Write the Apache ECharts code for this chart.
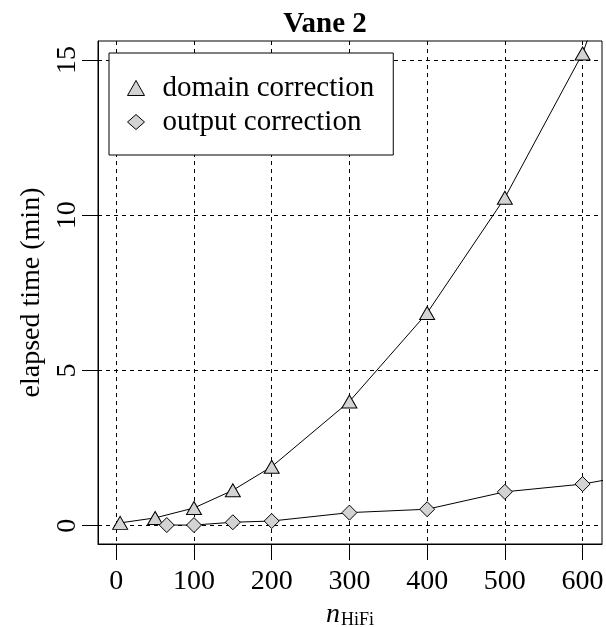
<!DOCTYPE html>
<html>
<head>
<meta charset="utf-8">
<title>Vane 2</title>
<script src="https://cdn.jsdelivr.net/npm/echarts@6/dist/echarts.min.js"></script>
<style>
  html, body { margin: 0; padding: 0; background: #fff; }
  #main { width: 606px; height: 627px; }
</style>
</head>
<body>
<div id="main"></div>
<script>
  // data
  var domainX = [5, 50, 100, 150, 200, 300, 400, 500, 600, 700];
  var domainY = [0.09, 0.25, 0.57, 1.14, 1.9, 4.0, 6.85, 10.56, 15.21, 22.0];
  var outputX = [65, 100, 150, 200, 300, 400, 500, 600, 700];
  var outputY = [0.02, 0.02, 0.11, 0.15, 0.42, 0.53, 1.09, 1.34, 1.79];
  var xTicks = [0, 100, 200, 300, 400, 500, 600];
  var yTicks = [0, 5, 10, 15];

  var X_MIN = -23.5, X_MAX = 625;
  var Y_MIN = -0.59, Y_MAX = 15.61;

  var FONT = '"Liberation Serif", "DejaVu Serif", serif';
  var FILL = '#d3d3d3';
  var SOLID = { show: true, lineStyle: { color: '#000', type: 'solid', width: 1 } };
  var DASHED = { show: true, lineStyle: { color: '#000', type: [4, 4], width: 1 } };

  function pairs(xs, ys) {
    return xs.map(function (x, i) { return [x, ys[i]]; });
  }

  var chart = echarts.init(document.getElementById('main'));
  chart.setOption({
    animation: false,
    backgroundColor: '#fff',
    title: {
      text: 'Vane 2',
      left: 320,
      top: 5,
      textAlign: 'center',
      textStyle: { fontFamily: FONT, fontWeight: 'bold', fontSize: 29, color: '#000' }
    },
    grid: [
      // main plot
      { left: 98, right: 4, top: 41, bottom: 83, outerBoundsMode: 'none',
        show: true, borderColor: '#000', borderWidth: 1, backgroundColor: 'transparent' },
      // strip under the plot: its split lines are the x ticks
      { left: 98, right: 4, top: 544, bottom: 67, outerBoundsMode: 'none' },
      // strip left of the plot: its split lines are the y ticks
      { left: 82, right: 508, top: 41, bottom: 83, outerBoundsMode: 'none' }
    ],
    legend: {
      orient: 'vertical',
      left: 109, top: 53,
      padding: [20, 19, 18, 18],
      borderColor: '#000', borderWidth: 1,
      backgroundColor: '#fff',
      itemWidth: 17, itemHeight: 15, itemGap: 4,
      textStyle: { fontFamily: FONT, fontSize: 29, lineHeight: 30, color: '#000', padding: [0, 0, 0, 13] },
      data: [
        { name: 'domain correction', icon: 'triangle', itemStyle: { color: FILL, borderColor: '#000', borderWidth: 1 } },
        { name: 'output correction', icon: 'diamond', itemStyle: { color: FILL, borderColor: '#000', borderWidth: 1 } }
      ]
    },
    xAxis: [
      {
        type: 'value', gridIndex: 0,
        min: X_MIN, max: X_MAX,
        name: '{n|n}{s|HiFi}',
        nameLocation: 'middle',
        nameGap: 55,
        nameTextStyle: {
          rich: {
            n: { fontFamily: FONT, fontStyle: 'italic', fontSize: 28, color: '#000' },
            s: { fontFamily: FONT, fontSize: 18, color: '#000', padding: [10, 0, 0, 1] }
          }
        },
        axisLine: { show: true, onZero: false, lineStyle: { color: '#000' } },
        axisTick: { show: false, customValues: xTicks },
        axisLabel: { customValues: xTicks, margin: 24, fontFamily: FONT, fontSize: 28, color: '#000' },
        splitLine: DASHED
      },
      {
        type: 'value', gridIndex: 1,
        min: X_MIN, max: X_MAX,
        axisLine: { show: false },
        axisTick: { show: false, customValues: xTicks },
        axisLabel: { show: false, customValues: xTicks },
        splitLine: SOLID
      },
      { type: 'value', gridIndex: 2, show: false, min: 0, max: 1 }
    ],
    yAxis: [
      {
        type: 'value', gridIndex: 0,
        min: Y_MIN, max: Y_MAX,
        name: 'elapsed time (min)',
        nameLocation: 'middle',
        nameGap: 40,
        nameTextStyle: { fontFamily: FONT, fontSize: 28, color: '#000' },
        axisLine: { show: true, onZero: false, lineStyle: { color: '#000' } },
        axisTick: { show: false, customValues: yTicks },
        axisLabel: { customValues: yTicks, rotate: 90, margin: 16, fontFamily: FONT, fontSize: 28, color: '#000' },
        splitLine: DASHED
      },
      { type: 'value', gridIndex: 1, show: false, min: 0, max: 1 },
      {
        type: 'value', gridIndex: 2,
        min: Y_MIN, max: Y_MAX,
        axisLine: { show: false },
        axisTick: { show: false, customValues: yTicks },
        axisLabel: { show: false, customValues: yTicks },
        splitLine: SOLID
      }
    ],
    series: [
      {
        name: 'domain correction',
        type: 'line',
        data: pairs(domainX, domainY),
        symbol: 'triangle',
        symbolSize: [15, 13],
        showAllSymbol: true,
        lineStyle: { color: '#000', width: 1 },
        itemStyle: { color: FILL, borderColor: '#000', borderWidth: 1 },
        z: 3
      },
      {
        name: 'output correction',
        type: 'line',
        data: pairs(outputX, outputY),
        symbol: 'diamond',
        symbolSize: [15, 15],
        showAllSymbol: true,
        lineStyle: { color: '#000', width: 1 },
        itemStyle: { color: FILL, borderColor: '#000', borderWidth: 1 },
        z: 3
      }
    ]
  });
</script>
</body>
</html>
